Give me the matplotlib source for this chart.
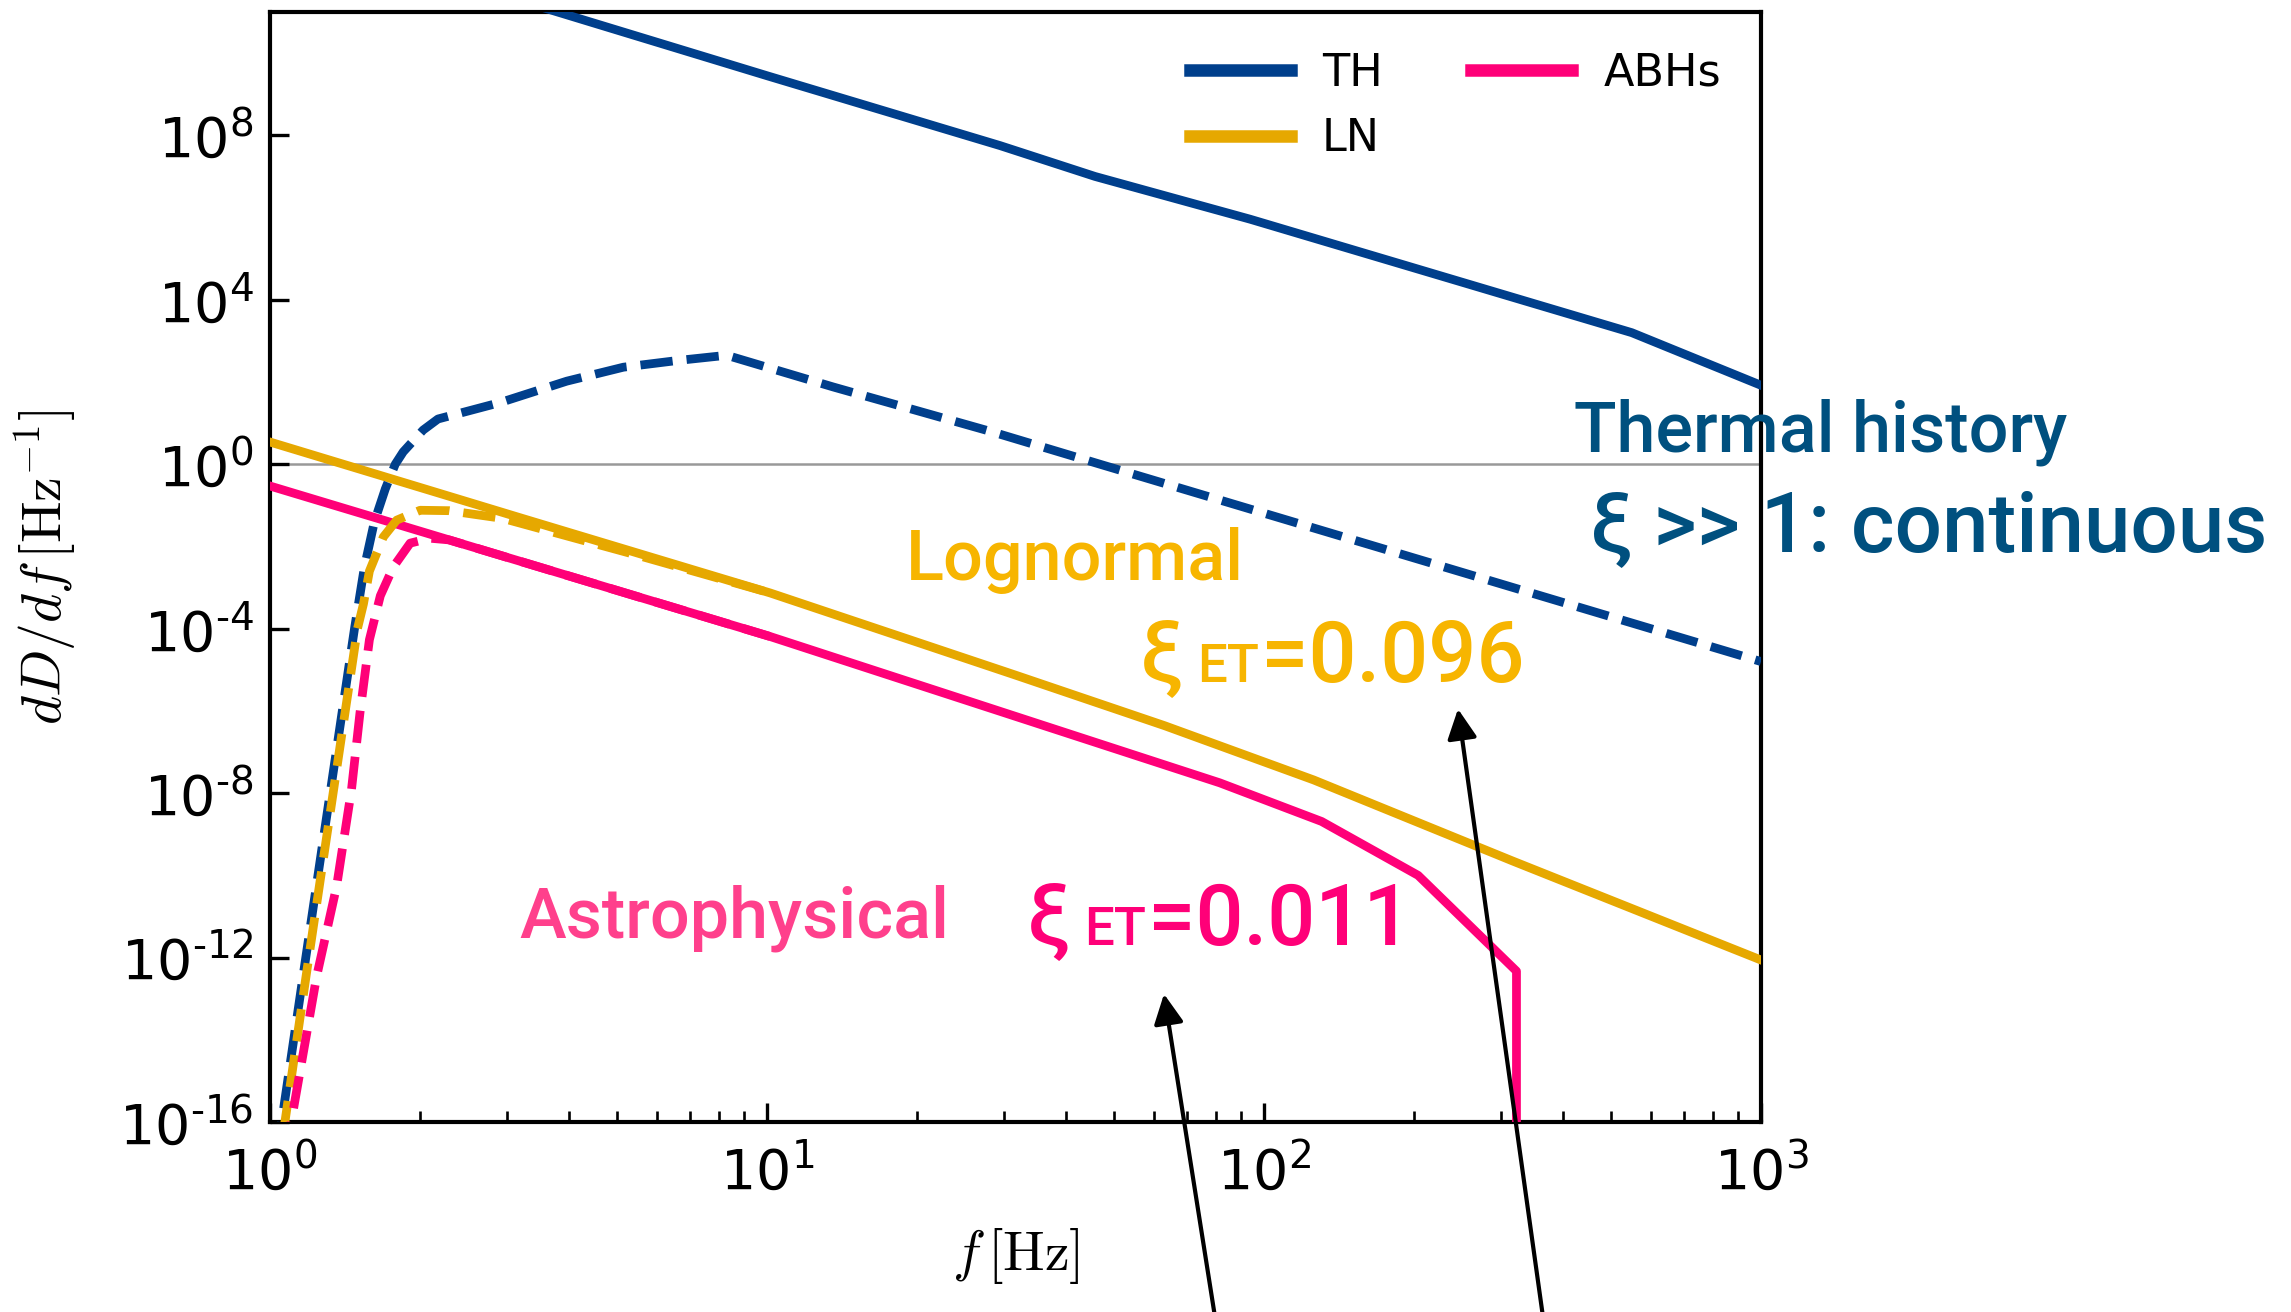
import numpy as np
import matplotlib
matplotlib.use("Agg")
import matplotlib.pyplot as plt
from matplotlib.ticker import LogLocator, NullLocator, FixedLocator, FixedFormatter, NullFormatter

# ---------------- data (log10 values) ----------------
# TH (thermal history) solid
th_logf = [0.45, 0.584, 1.0, 1.469, 1.66, 1.972, 2.74, 3.0]
th_logy = [11.47, 10.98, 9.45, 7.75, 7.0, 5.96, 3.2, 1.92]
# TH dashed
thd_logf = [0.0, 0.0234, 0.072, 0.121, 0.17, 0.19, 0.21, 0.232, 0.252, 0.268, 0.308,
            0.338, 0.463, 0.597, 0.711, 0.818, 0.919, 1.133, 1.455, 1.67, 3.0]
thd_logy = [-17.9, -16.0, -12.0, -8.0, -4.0, -2.5, -1.4, -0.6, 0.0, 0.3, 0.83,
            1.1, 1.5, 2.02, 2.36, 2.52, 2.65, 1.88, 0.78, 0.0, -4.8]
# LN (lognormal) solid
ln_logf = [0.0, 0.5, 1.006, 1.5, 1.8, 2.1, 2.5, 3.0]
ln_logy = [0.54, -1.29, -3.13, -5.13, -6.36, -7.68, -9.65, -12.06]
# LN dashed
lnd_logf = [0.0, 0.03, 0.078, 0.127, 0.176, 0.188, 0.2, 0.228, 0.255, 0.302, 0.36,
            0.469, 0.738, 1.006]
lnd_logy = [-18.5, -16.0, -12.0, -8.0, -4.0, -3.4, -2.6, -1.77, -1.36, -1.12, -1.13,
            -1.32, -2.21, -3.13]
# ABHs solid
ab_logf = [0.0, 1.006, 1.911, 2.116, 2.31, 2.508, 2.508]
ab_logy = [-0.53, -4.19, -7.75, -8.69, -10.0, -12.33, -20.0]
# ABHs dashed
abd_logf = [0.0, 0.035, 0.047, 0.094, 0.134, 0.164, 0.181, 0.2, 0.222, 0.248, 0.282,
            0.322, 0.36, 1.006]
abd_logy = [-19.0, -16.5, -15.7, -12.45, -10.27, -7.91, -6.05, -4.27, -3.2, -2.5, -1.92,
            -1.8, -1.84, -4.19]

legend_labels = ["TH", "LN", "ABHs"]
y_tick_exps = [-16, -12, -8, -4, 0, 4, 8]
x_tick_exps = [0, 1, 2, 3]

C_TH = "#003f8c"
C_LN = "#e6a800"
C_AB = "#ff0078"

# ---------------- figure ----------------
W, H = 2291, 1312
fig = plt.figure(figsize=(W / 100, H / 100), dpi=100)
ax = fig.add_axes([270 / W, (H - 1122) / H, (1761 - 270) / W, (1122 - 12) / H])

lw = 6.3
def P(a):
    return 10.0 ** np.asarray(a)

ax.axhline(1.0, color="#999999", lw=1.8, zorder=1)
h1, = ax.plot(P(th_logf), P(th_logy), color=C_TH, lw=lw, zorder=3)
h2, = ax.plot(P(ln_logf), P(ln_logy), color=C_LN, lw=lw, zorder=3)
h3, = ax.plot(P(ab_logf), P(ab_logy), color=C_AB, lw=lw, zorder=3)
ax.plot(P(thd_logf), P(thd_logy), color=C_TH, lw=lw, ls="--", zorder=4)
ax.plot(P(lnd_logf), P(lnd_logy), color=C_LN, lw=lw, ls="--", zorder=4)
ax.plot(P(abd_logf), P(abd_logy), color=C_AB, lw=lw, ls="--", zorder=4)

ax.set_xscale("log")
ax.set_yscale("log")
ax.set_xlim(1, 1000)
ax.set_ylim(1e-16, 1e11)

ax.yaxis.set_major_locator(FixedLocator([10.0 ** e for e in y_tick_exps]))
ax.yaxis.set_major_formatter(FixedFormatter(
    [r"$\mathdefault{10^{\text{%d}}}$" % e if e >= 0 else r"$\mathdefault{10^{\text{-%d}}}$" % (-e)
     for e in y_tick_exps]))
ax.yaxis.set_minor_locator(NullLocator())
ax.xaxis.set_major_locator(FixedLocator([10.0 ** e for e in x_tick_exps]))
ax.xaxis.set_major_formatter(FixedFormatter([r"$\mathdefault{10^{%d}}$" % e for e in x_tick_exps]))
ax.xaxis.set_minor_locator(LogLocator(base=10, subs=np.arange(2, 10), numticks=20))
ax.xaxis.set_minor_formatter(NullFormatter())

ax.tick_params(axis="both", which="major", direction="in", length=14, width=2.4,
               labelsize=40, top=False, right=False)
ax.tick_params(axis="y", which="major", pad=12)
ax.tick_params(axis="x", which="major", pad=17)
ax.tick_params(axis="both", which="minor", direction="in", length=8, width=1.9,
               top=False, right=False)
for s in ax.spines.values():
    s.set_linewidth(3.0)

xl = ax.set_xlabel(r"$f\,[\mathrm{Hz}]$", fontsize=40)
yl = ax.set_ylabel(r"$dD/df\,[\mathrm{Hz}^{-1}]$", fontsize=40)
xl.set_math_fontfamily("cm")
yl.set_math_fontfamily("cm")
ax.xaxis.set_label_coords(0.5, -0.094)
ax.yaxis.set_label_coords(-0.128, 0.5)

leg = ax.legend([h1, h2, h3], legend_labels, ncol=2, loc="upper right", frameon=False,
                fontsize=32, handlelength=2.27, handletextpad=0.7, columnspacing=2.0,
                labelspacing=0.5)
for lh in leg.get_lines():
    lh.set_linewidth(9)

# ---------------- annotations ----------------
FONT = ["Roboto", "Noto Sans", "DejaVu Sans"]
renderer = fig.canvas.get_renderer()

def ftext(x_px, base_px, s, size, color, weight="medium"):
    return fig.text(x_px / W, 1 - base_px / H, s, fontsize=size, color=color,
                    family=FONT, weight=weight, ha="left", va="baseline")

def compose(x_px, base_px, pieces):
    x = x_px
    for s, size, color, gap in pieces:
        t = ftext(x, base_px, s, size, color)
        bb = t.get_window_extent(renderer)
        x = bb.x1 + gap

C_TXT_TH = "#00507f"
C_TXT_LN = "#f7b500"
C_TXT_AB_LIGHT = "#ff408c"

ftext(1574, 452, "Thermal history", 50.5, C_TXT_TH)
ftext(1590, 551, "\u03be >> 1: continuous", 60, C_TXT_TH)
ftext(906, 580, "Lognormal", 50.5, C_TXT_LN)
ftext(519, 938, "Astrophysical", 50.5, C_TXT_AB_LIGHT)
compose(1140, 682, [("\u03be", 61, C_TXT_LN, 14), ("ET", 38, C_TXT_LN, 2), ("=0.096", 61, C_TXT_LN, 0)])
compose(1027, 945, [("\u03be", 61, C_AB, 14), ("ET", 38, C_AB, 2), ("=0.011", 61, C_AB, 0)])

arrow_kw = dict(arrowstyle="-|>,head_length=0.6,head_width=0.3", lw=3.0, color="black",
                shrinkA=0, shrinkB=0, mutation_scale=30)
ax.annotate("", xy=(1164, H - 994), xytext=(1215, -5), xycoords="figure pixels",
            textcoords="figure pixels", arrowprops=arrow_kw, annotation_clip=False)
ax.annotate("", xy=(1458, H - 709), xytext=(1543, -5), xycoords="figure pixels",
            textcoords="figure pixels", arrowprops=arrow_kw, annotation_clip=False)

fig.savefig("out.png", dpi=100)
